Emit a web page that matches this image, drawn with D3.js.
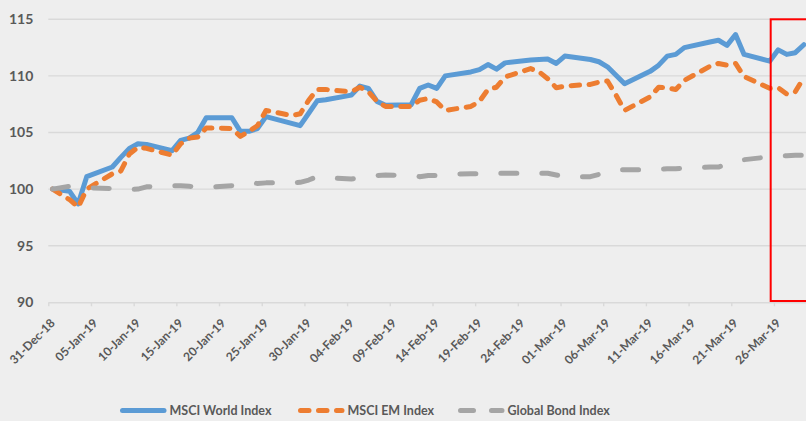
<!DOCTYPE html>
<html>
<head>
<meta charset="utf-8">
<script src="https://cdn.jsdelivr.net/npm/d3@7"></script>
<style>
  html, body { margin: 0; padding: 0; background: #eeeeee; }
  svg { display: block; }
  text { font-family: Lato, "Open Sans", sans-serif; font-weight: bold; fill: #595959; }
</style>
</head>
<body>
<svg id="chart" width="806" height="421"></svg>
<script>
// ---------- DATA ----------
const dates = [
  "2018-12-31",
  "2019-01-02","2019-01-03","2019-01-04","2019-01-07","2019-01-08","2019-01-09","2019-01-10","2019-01-11",
  "2019-01-14","2019-01-15","2019-01-16","2019-01-17","2019-01-18","2019-01-21","2019-01-22","2019-01-23",
  "2019-01-24","2019-01-25","2019-01-28","2019-01-29","2019-01-30","2019-01-31",
  "2019-02-01","2019-02-04","2019-02-05","2019-02-06","2019-02-07","2019-02-08","2019-02-11","2019-02-12",
  "2019-02-13","2019-02-14","2019-02-15","2019-02-18","2019-02-19","2019-02-20","2019-02-21","2019-02-22",
  "2019-02-25","2019-02-26","2019-02-27","2019-02-28",
  "2019-03-01","2019-03-04","2019-03-05","2019-03-06","2019-03-07","2019-03-08","2019-03-11","2019-03-12",
  "2019-03-13","2019-03-14","2019-03-15","2019-03-18","2019-03-19","2019-03-20","2019-03-21","2019-03-22",
  "2019-03-25","2019-03-26","2019-03-27","2019-03-28","2019-03-29"
];

const msciWorld = [
  100.0,
  99.8, 98.7, 101.1, 101.95, 102.8, 103.6, 104.0, 103.95,
  103.4, 104.3, 104.5, 105.0, 106.3, 106.3, 105.1, 105.1,
  105.35, 106.4, 105.8, 105.6, 106.7, 107.8,
  107.9, 108.3, 109.1, 108.9, 107.75, 107.4, 107.45, 108.9,
  109.2, 108.9, 110.0, 110.35, 110.55, 111.0, 110.6, 111.15,
  111.4, 111.45, 111.5, 111.1,
  111.75, 111.45, 111.25, 110.8, 110.05, 109.3, 110.4, 110.95,
  111.75, 111.9, 112.5, 113.0, 113.15, 112.7, 113.65, 111.9,
  111.3, 112.3, 111.9, 112.05, 112.75
];

const msciEM = [
  100.0,
  99.06, 98.4, 100.0, 101.35, 101.6, 103.1, 103.7, 103.6,
  103.0, 104.0, 104.5, 104.6, 105.4, 105.35, 104.65, 105.1,
  105.6, 106.95, 106.5, 106.65, 107.85, 108.8,
  108.8, 108.6, 109.0, 108.6, 107.75, 107.3, 107.3, 107.85,
  108.0, 107.7, 106.95, 107.3, 107.75, 108.8, 109.0, 109.9,
  110.65, 110.35, 109.75, 108.95,
  109.1, 109.25, 109.45, 109.55, 108.3, 106.95, 108.15, 109.0,
  108.95, 108.8, 109.6, 110.85, 111.1, 110.95, 111.1, 109.95,
  108.9, 108.95, 108.4, 108.6, 109.85
];

const globalBond = [
  100.0,
  100.25, 100.15, 100.1, 100.05, 100.0, 99.95, 100.0, 100.2,
  100.3, 100.3, 100.25, 100.2, 100.15, 100.3, 100.5, 100.55,
  100.5, 100.55, 100.55, 100.6, 100.8, 101.1,
  101.0, 100.9, 101.0, 101.1, 101.2, 101.25, 101.2, 101.1,
  101.2, 101.2, 101.3, 101.35, 101.35, 101.35, 101.4, 101.4,
  101.4, 101.4, 101.4, 101.25,
  101.1, 101.1, 101.3, 101.55, 101.7, 101.7, 101.7, 101.75,
  101.8, 101.8, 101.85, 101.95, 101.95, 102.2, 102.4, 102.6,
  102.85, 102.9, 102.95, 103.0, 103.0
];

const seriesNames = ["MSCI World Index", "MSCI EM Index", "Global Bond Index"];
const xTickLabels = ["31-Dec-18","05-Jan-19","10-Jan-19","15-Jan-19","20-Jan-19","25-Jan-19","30-Jan-19",
  "04-Feb-19","09-Feb-19","14-Feb-19","19-Feb-19","24-Feb-19","01-Mar-19","06-Mar-19","11-Mar-19",
  "16-Mar-19","21-Mar-19","26-Mar-19"];
const yTicks = [90, 95, 100, 105, 110, 115];
const axisStart = "2018-12-31", axisEnd = "2019-03-30";
const highlightStart = "2019-03-25T14:50:00Z";

// ---------- STYLES ----------
const colors = ["#5b9bd5", "#ed7d31", "#a5a5a5"];
const dashes = [null, "8.5,9.5", "16,25"];
const lineW = 5;

// ---------- SCALES ----------
const W = 806, H = 421;
const plotL = 48.3, plotR = 808.1, plotT = 19.3, plotB = 302.3;
const parse = d3.utcParse("%Y-%m-%d");
const parseTick = d3.utcParse("%d-%b-%y");

const x = d3.scaleUtc().domain([parse(axisStart), parse(axisEnd)]).range([plotL, plotR]);
const y = d3.scaleLinear().domain([90, 115]).range([plotB, plotT]);

const svg = d3.select("#chart");
svg.append("rect").attr("width", W).attr("height", H).attr("fill", "#eeeeee");

// gridlines
svg.append("g").selectAll("line").data(yTicks.filter(t => t > 90)).join("line")
  .attr("x1", plotL).attr("x2", W)
  .attr("y1", d => y(d)).attr("y2", d => y(d))
  .attr("stroke", "#d9d9d9").attr("stroke-width", 1.4);

// y axis labels
const yAxis = svg.append("g").attr("transform", `translate(${plotL},0)`)
  .call(d3.axisLeft(y).tickValues(yTicks).tickSize(0).tickPadding(15));
yAxis.select(".domain").remove();
yAxis.selectAll("text").style("font-size", "14px").style("font-family", "Lato, sans-serif")
  .style("font-weight", "bold").attr("fill", "#595959");

// x axis
const xAxis = svg.append("g").attr("transform", `translate(0,${plotB})`)
  .call(d3.axisBottom(x).tickValues(xTickLabels.map(parseTick))
    .tickFormat(d3.utcFormat("%d-%b-%y")).tickSize(4).tickSizeOuter(0));
xAxis.select(".domain").attr("stroke", "#d9d9d9").attr("stroke-width", 1.6);
xAxis.selectAll(".tick line").attr("stroke", "#d9d9d9").attr("stroke-width", 1.4);
xAxis.selectAll("text")
  .attr("x", null).attr("y", null).attr("dy", null)
  .attr("text-anchor", "end")
  .attr("transform", "translate(7,21.5) rotate(-45)")
  .style("font-size", "12px").style("font-family", "Lato, sans-serif")
  .style("font-weight", "bold").attr("fill", "#595959");

// lines (points sit in the middle of each day)
const pts = dates.map(parse).map(d => d3.utcHour.offset(d, 12));
const allSeries = [msciWorld, msciEM, globalBond];
const line = d3.line().x((d, i) => x(pts[i])).y(d => y(d));
const gLines = svg.append("g");
allSeries.forEach((vals, k) => {
  gLines.append("path").datum(vals)
    .attr("d", line)
    .attr("fill", "none")
    .attr("stroke", colors[k])
    .attr("stroke-width", lineW)
    .attr("stroke-linejoin", "round")
    .attr("stroke-linecap", "round")
    .attr("stroke-dasharray", dashes[k]);
});

// red highlight box
svg.append("rect")
  .attr("x", x(d3.isoParse(highlightStart)))
  .attr("y", y(115))
  .attr("width", 60)
  .attr("height", y(90) - y(115) - 1.3)
  .attr("fill", "none").attr("stroke", "#ff0000").attr("stroke-width", 2);

// legend
const legendX = [120, 298, 458];
const legY = 410.5;
const leg = svg.append("g");
seriesNames.forEach((name, k) => {
  leg.append("line")
    .attr("x1", legendX[k] + 2.5).attr("x2", legendX[k] + 44)
    .attr("y1", legY).attr("y2", legY)
    .attr("stroke", colors[k]).attr("stroke-width", lineW)
    .attr("stroke-linecap", "round")
    .attr("stroke-dasharray", k === 2 ? "13,18" : dashes[k]);
  leg.append("text")
    .attr("x", legendX[k] + 49.5).attr("y", legY + 4.5)
    .style("font-size", "12.5px")
    .text(name);
});
</script>
</body>
</html>
